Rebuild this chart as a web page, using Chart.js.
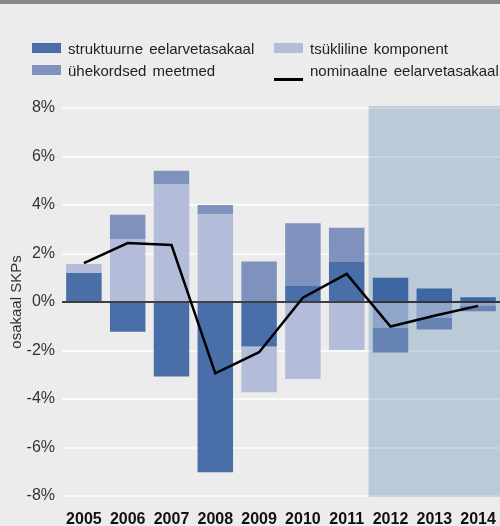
<!DOCTYPE html>
<html>
<head>
<meta charset="utf-8">
<script src="https://cdn.jsdelivr.net/npm/chart.js@4/dist/chart.umd.min.js"></script>
<style>
  html, body { margin: 0; padding: 0; }
  body {
    width: 500px;
    height: 526px;
    background: #ebeceb;
    position: relative;
    overflow: hidden;
    font-family: "Liberation Sans", Arial, Helvetica, sans-serif;
  }
  .top-band { position: absolute; left: 0; top: 0; width: 500px; height: 4px; background: #888888; }
  #chart { position: absolute; left: 0; top: 0; }
  .legend {
    position: absolute;
    left: 32px;
    top: 37px;
    display: grid;
    grid-template-columns: 242px 230px;
    grid-auto-rows: 22px;
    font-size: 15px;
    color: #222;
    word-spacing: 2px;
  }
  .legend-item { display: flex; align-items: center; white-space: nowrap; }
  .swatch { width: 29px; height: 10px; margin-right: 7px; flex: none; }
  .swatch.line { height: 3px; margin-top: 19px; align-self: flex-start; }
</style>
</head>
<body>
<div class="top-band"></div>
<canvas id="chart" width="500" height="526"></canvas>
<div class="legend" id="legend"></div>
<script>
const years = ['2005', '2006', '2007', '2008', '2009', '2010', '2011', '2012', '2013', '2014'];
const structural = [1.2, -1.23, -3.07, -7.02, -1.83, 0.66, 1.65, 1.0, 0.56, 0.2];
const cyclical = [0.37, 2.6, 4.87, 3.62, -1.89, -3.18, -1.98, -1.05, -0.64, -0.14];
const oneOff = [0, 1.0, 0.54, 0.38, 1.67, 2.59, 1.41, -1.03, -0.49, -0.24];
const nominal = [1.6, 2.43, 2.35, -2.94, -2.07, 0.18, 1.16, -1.01, -0.57, -0.16];
const yTicks = [-8, -6, -4, -2, 0, 2, 4, 6, 8];
const forecastFrom = '2012';
const seriesNames = {
  structural: 'struktuurne eelarvetasakaal',
  cyclical: 'tsükliline komponent',
  oneOff: 'ühekordsed meetmed',
  nominal: 'nominaalne eelarvetasakaal'
};
const axisTitle = 'osakaal SKPs';

const colors = {
  structural: '#4a6ea8',
  cyclical: '#b3bdd9',
  oneOff: '#7f91bd',
  nominal: '#000000'
};

// legend in the source's two-column order
const legendOrder = ['structural', 'cyclical', 'oneOff', 'nominal'];
document.getElementById('legend').innerHTML = legendOrder
  .map((key) => `
    <div class="legend-item">
      <span class="swatch ${key === 'nominal' ? 'line' : ''}" style="background:${colors[key]}"></span>
      <span>${seriesNames[key]}</span>
    </div>
  `)
  .join('');

const forecastShade = {
  id: 'forecastShade',
  beforeDatasetDraw(chart, args) {
    if (args.meta.type !== 'line') return;
    const { ctx, chartArea, scales } = chart;
    const idx = years.indexOf(forecastFrom);
    const half = (scales.x.getPixelForValue(1) - scales.x.getPixelForValue(0)) / 2;
    const left = scales.x.getPixelForValue(idx) - half;
    ctx.save();
    ctx.fillStyle = 'rgba(18, 84, 147, 0.22)';
    ctx.fillRect(left, chartArea.top - 2, chartArea.right - left, chartArea.bottom - chartArea.top + 3);
    ctx.restore();
  },
  afterDatasetsDraw(chart) {
    const { ctx, chartArea, scales } = chart;
    const y0 = scales.y.getPixelForValue(0);
    ctx.save();
    ctx.strokeStyle = '#000';
    ctx.lineWidth = 1.5;
    ctx.beginPath();
    ctx.moveTo(chartArea.left, y0);
    ctx.lineTo(chartArea.right, y0);
    ctx.stroke();
    ctx.restore();
  }
};

const barDefaults = { type: 'bar', order: 1, barPercentage: 0.81, categoryPercentage: 1, borderWidth: 0 };

new Chart(document.getElementById('chart'), {
  data: {
    labels: years,
    datasets: [
      { ...barDefaults, label: seriesNames.structural, data: structural, backgroundColor: colors.structural },
      { ...barDefaults, label: seriesNames.cyclical, data: cyclical, backgroundColor: colors.cyclical },
      { ...barDefaults, label: seriesNames.oneOff, data: oneOff, backgroundColor: colors.oneOff },
      {
        type: 'line',
        order: 0,
        stack: 'nominal',
        label: seriesNames.nominal,
        data: nominal,
        borderColor: colors.nominal,
        borderWidth: 2.5,
        pointRadius: 0,
        tension: 0,
        fill: false
      }
    ]
  },
  options: {
    responsive: false,
    animation: false,
    layout: { padding: { top: 108, left: 0, right: 0, bottom: 0 } },
    plugins: { legend: { display: false }, tooltip: { enabled: false } },
    scales: {
      x: {
        stacked: true,
        afterFit(scale) {
          scale.paddingRight = 0;
          scale.paddingLeft = 0;
          scale.height = 30;
        },
        grid: { display: false },
        border: { display: false },
        ticks: {
          color: '#111',
          padding: 6,
          font: { family: '"Liberation Sans", Arial, sans-serif', size: 16, weight: 'bold' }
        }
      },
      y: {
        stacked: true,
        min: -8,
        max: 8,
        afterFit(scale) { scale.width = 62; },
        afterBuildTicks(scale) { scale.ticks = yTicks.map((v) => ({ value: v })); },
        grid: { color: '#fafafa', lineWidth: 2, drawTicks: false },
        border: { display: false },
        ticks: {
          color: '#333',
          padding: 7,
          font: { family: '"Liberation Sans", Arial, sans-serif', size: 16 },
          callback: (v) => v + '%'
        },
        title: {
          display: true,
          text: axisTitle,
          color: '#333',
          padding: { top: 8, bottom: 0 },
          font: { family: '"Liberation Sans", Arial, sans-serif', size: 15 }
        }
      }
    }
  },
  plugins: [forecastShade]
});
</script>
</body>
</html>
